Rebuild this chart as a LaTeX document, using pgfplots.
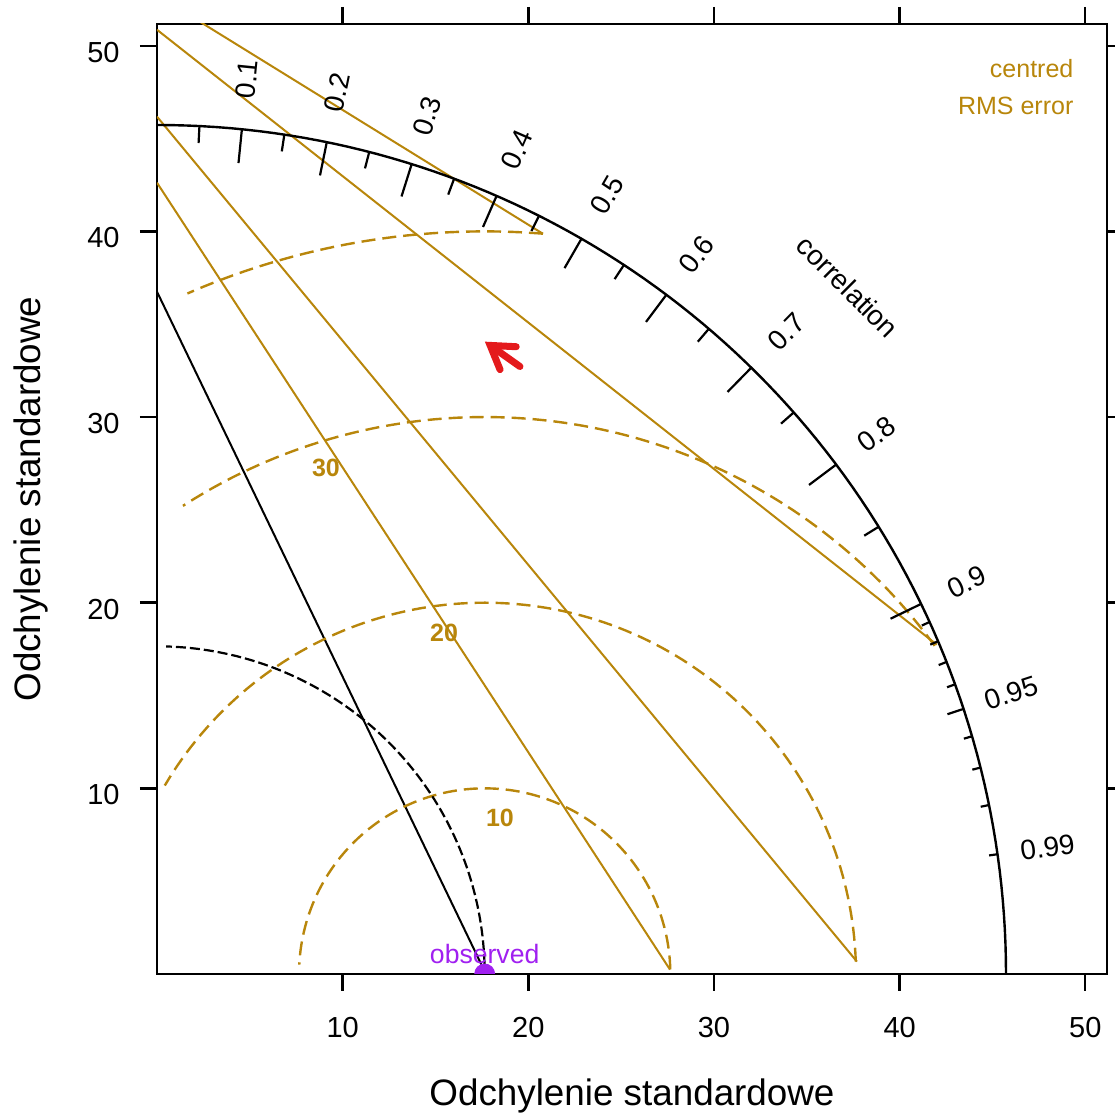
\documentclass[border=0pt]{standalone}
\usepackage{pgfplots}
\pgfplotsset{compat=1.18}
\usepackage{fontspec}
\setmainfont{Liberation Sans}
\usetikzlibrary{arrows.meta}
\definecolor{gold}{HTML}{B8860B}
\definecolor{obs}{HTML}{A020F0}
\definecolor{arr}{HTML}{E41A1C}
\begin{document}
\begin{tikzpicture}
\begin{axis}[
  scale only axis,
  width=475pt, height=475pt,
  xmin=0, xmax=51.17, ymin=0, ymax=51.17,
  xtick={10,20,30,40,50}, ytick={10,20,30,40,50},
  tick align=outside,
  xtick pos=both, ytick pos=both,
  xticklabel pos=lower, yticklabel pos=left,
  major tick length=8.5pt,
  every tick/.style={black, line width=1.2pt},
  axis line style={line width=1.2pt},
  clip marker paths=true,
  /pgf/number format/assume math mode=true,
  ticklabel style={font=\fontsize{14.5}{16}\selectfont},
  xticklabel style={inner sep=0pt, anchor=north, yshift=-13pt},
  yticklabel style={inner sep=0pt, anchor=east, xshift=-10pt, yshift=-3.3pt},
  xlabel={Odchylenie standardowe},
  ylabel={Odchylenie standardowe},
  xlabel style={font=\fontsize{18.4}{20}\selectfont, at={(axis description cs:0.5,-0.1284)}, anchor=center},
  ylabel style={font=\fontsize{18.4}{20}\selectfont, at={(axis description cs:-0.1326,0.5)}, anchor=center},
]
\coordinate (bl) at (rel axis cs:0,0);
\coordinate (tr) at (rel axis cs:1,1);

% goldenrod straight lines
\addplot[gold, line width=1pt] coordinates {(0,52.72) (20.79,39.87)};
\addplot[gold, line width=1pt] coordinates {(0,50.86) (42.0,17.74)};
\addplot[gold, line width=1pt] coordinates {(0,46.18) (37.70,0.67)};
\addplot[gold, line width=1pt] coordinates {(0,42.62) (27.63,0.24)};
% black straight line
\addplot[black, line width=1pt] coordinates {(0,36.75) (17.55,0.35)};

% centred RMS error arcs (centre at observed sd)
\addplot[gold, line width=1.2pt, dash pattern=on 7pt off 3.5pt, domain=1.4:177.1, samples=120] ({17.65+10*cos(x)},{10*sin(x)});
\addplot[gold, line width=1.2pt, dash pattern=on 7pt off 3.5pt, domain=1.9:149.5, samples=120] ({17.65+20*cos(x)},{20*sin(x)});
\addplot[gold, line width=1.2pt, dash pattern=on 7pt off 3.5pt, domain=36.1:122.8, samples=120] ({17.65+30*cos(x)},{30*sin(x)});
\addplot[gold, line width=1.2pt, dash pattern=on 7pt off 3.5pt, domain=85.5:113.6, samples=60] ({17.65+40*cos(x)},{40*sin(x)});

% observed sd arc
\addplot[black, line width=1.1pt, dash pattern=on 5pt off 2pt, domain=1.7:88.4, samples=120] ({17.65*cos(x)},{17.65*sin(x)});

% outer arc
\addplot[black, line width=1.2pt, domain=0:90, samples=181] ({45.73*cos(x)},{45.73*sin(x)});

% correlation ticks
\pgfplotsinvokeforeach{0.1,0.2,0.3,0.4,0.5,0.6,0.7,0.8,0.9}{
  \draw[black, line width=1.1pt] (axis cs:{45.73*#1},{45.73*sqrt(1-#1*#1)}) -- (axis cs:{0.96*45.73*#1},{0.96*45.73*sqrt(1-#1*#1)});
}
\pgfplotsinvokeforeach{0.05,0.15,0.25,0.35,0.45,0.55,0.65,0.75,0.85,0.95}{
  \draw[black, line width=1.1pt] (axis cs:{45.73*#1},{45.73*sqrt(1-#1*#1)}) -- (axis cs:{0.98*45.73*#1},{0.98*45.73*sqrt(1-#1*#1)});
}
\pgfplotsinvokeforeach{0.91,0.92,0.93,0.94,0.96,0.97,0.98,0.99}{
  \draw[black, line width=1.1pt] (axis cs:{45.73*#1},{45.73*sqrt(1-#1*#1)}) -- (axis cs:{0.99*45.73*#1},{0.99*45.73*sqrt(1-#1*#1)});
}
% correlation labels
\pgfplotsinvokeforeach{0.1,0.2,0.3,0.4,0.5,0.6,0.7,0.8,0.9,0.95,0.99}{
  \node[black, font=\fontsize{14}{16}\selectfont, rotate={acos(#1)}] at (axis cs:{48.45*#1},{48.45*sqrt(1-#1*#1)}) {#1};
}
\node[black, font=\fontsize{14}{16}\selectfont, rotate=-45] at (axis cs:37.21,37.02) {correlation};

% RMS labels
\node[gold, font=\bfseries\fontsize{12.5}{14}\selectfont] at (axis cs:18.47,8.43) {10};
\node[gold, font=\bfseries\fontsize{12.5}{14}\selectfont] at (axis cs:15.46,18.39) {20};
\node[gold, font=\bfseries\fontsize{12.5}{14}\selectfont] at (axis cs:9.10,27.27) {30};
\node[gold, anchor=base east, inner sep=0pt, font=\fontsize{12.5}{14}\selectfont] at (axis cs:49.38,48.28) {centred};
\node[gold, anchor=base east, inner sep=0pt, font=\fontsize{12.5}{14}\selectfont] at (axis cs:49.38,46.28) {RMS error};

% observed
\addplot[only marks, mark=*, mark size=5pt, obs] coordinates {(17.65,0)};
\node[obs, font=\fontsize{13.3}{15}\selectfont] at (axis cs:17.65,1.10) {observed};

% arrow
\addplot[arr, line width=3.5pt, line cap=round, -{Straight Barb[length=11pt, width=14pt, line cap=round]}] coordinates {(19.55,32.72) (17.66,34.06)};
\end{axis}
\pgfresetboundingbox
\path[use as bounding box] ([shift={(-78.5pt,-70.25pt)}]bl) rectangle ([shift={(4pt,12pt)}]tr);
\end{tikzpicture}
\end{document}
